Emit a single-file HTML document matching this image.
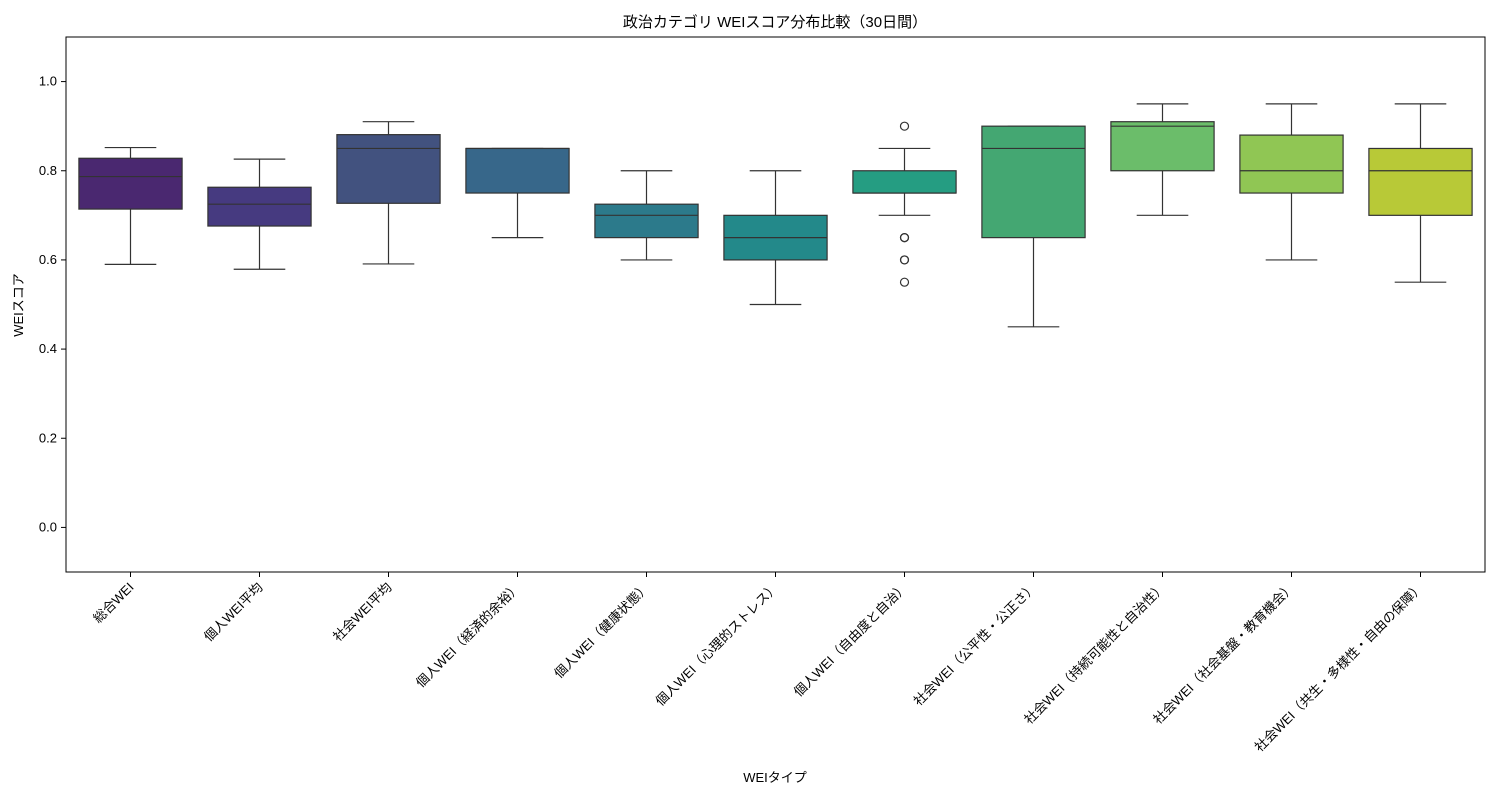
<!DOCTYPE html>
<html><head><meta charset="utf-8"><style>
body{margin:0;background:#fff;}
svg text{font-family:"Liberation Sans","Noto Sans CJK JP",sans-serif;fill:#000;}
</style></head><body>
<svg id="chart" width="1500" height="800" xmlns="http://www.w3.org/2000/svg">
<rect width="1500" height="800" fill="#fff"/>
<text x="775" y="27" font-size="15" text-anchor="middle">政治カテゴリ WEIスコア分布比較（30日間）</text>
<text x="775" y="782" font-size="13" text-anchor="middle">WEIタイプ</text>
<text x="23" y="305" font-size="13" text-anchor="middle" transform="rotate(-90 23 305)">WEIスコア</text>
<g id="plot"></g>
<rect x="66" y="37" width="1419" height="535" fill="none" stroke="#000" stroke-width="1"/>
</svg>
<script>
const categories=["総合WEI","個人WEI平均","社会WEI平均","個人WEI（経済的余裕）","個人WEI（健康状態）","個人WEI（心理的ストレス）","個人WEI（自由度と自治）","社会WEI（公平性・公正さ）","社会WEI（持続可能性と自治性）","社会WEI（社会基盤・教育機会）","社会WEI（共生・多様性・自由の保障）"];
const whiskerLow=[0.59,0.579,0.591,0.65,0.6,0.5,0.7,0.45,0.7,0.6,0.55];
const q1=[0.714,0.676,0.727,0.75,0.65,0.6,0.75,0.65,0.8,0.75,0.7];
const medians=[0.787,0.725,0.85,0.85,0.7,0.65,0.75,0.85,0.9,0.8,0.8];
const q3=[0.828,0.763,0.881,0.85,0.725,0.7,0.8,0.9,0.91,0.88,0.85];
const whiskerHigh=[0.852,0.826,0.91,0.85,0.8,0.8,0.85,0.9,0.95,0.95,0.95];
const outliers=[[],[],[],[],[],[],[0.9,0.65,0.65,0.6,0.6,0.55],[],[],[],[]];
const colors=["#4a2870","#463a80","#42527f","#37678a","#2c7a8b","#23898a","#259d82","#44a772","#6bbd6a","#90c654","#b8c937"];
const yTicks=[0.0,0.2,0.4,0.6,0.8,1.0];
const yMin=-0.1,yMax=1.1,plotTop=37,plotBottom=572,plotLeft=66,plotRight=1485;
const ys=v=>plotBottom-(v-yMin)/(yMax-yMin)*(plotBottom-plotTop);
const step=(plotRight-plotLeft)/categories.length;
const xs=i=>plotLeft+step*(i+0.5);
const NS="http://www.w3.org/2000/svg";
const g=document.getElementById('plot');
function mk(t,a){const e=document.createElementNS(NS,t);for(const k in a)e.setAttribute(k,a[k]);g.appendChild(e);return e;}
yTicks.forEach(v=>{
 const l=mk('line',{x1:plotLeft-5,x2:plotLeft,y1:ys(v),y2:ys(v),stroke:'#000'});
 
 
 const t=mk('text',{x:plotLeft-9,y:ys(v)+4,'font-size':13,'text-anchor':'end'});
 t.textContent=v.toFixed(1);
 
 
});
const bw=step*0.8;
categories.forEach((c,i)=>{
 const x=xs(i);
 const tk=mk('line',{x1:x,x2:x,y1:plotBottom,y2:plotBottom+5,stroke:'#000'});
 
 
 const t=mk('text',{x:x+4,y:plotBottom+16,'font-size':13,'text-anchor':'end',transform:`rotate(-45 ${x+4} ${plotBottom+16})`});
 t.textContent=c;
 
 
 const w1=mk('line',{x1:x,x2:x,y1:ys(whiskerLow[i]),y2:ys(q1[i]),stroke:'#333','stroke-width':1.2});
 
 
 const w2=mk('line',{x1:x,x2:x,y1:ys(q3[i]),y2:ys(whiskerHigh[i]),stroke:'#333','stroke-width':1.2});
 
 
 [whiskerLow[i],whiskerHigh[i]].forEach(v=>{
  const cap=mk('line',{x1:x-bw/4,x2:x+bw/4,y1:ys(v),y2:ys(v),stroke:'#333','stroke-width':1.2});
  
  
 });
 const b=mk('rect',{x:x-bw/2,y:ys(q3[i]),width:bw,height:Math.max(0.5,ys(q1[i])-ys(q3[i])),fill:colors[i],stroke:'#333','stroke-width':1.2});
 
 
 const m=mk('line',{x1:x-bw/2,x2:x+bw/2,y1:ys(medians[i]),y2:ys(medians[i]),stroke:'#333','stroke-width':1.2});
 
 
 outliers[i].forEach(v=>{
  const o=mk('circle',{cx:x,cy:ys(v),r:4,fill:'none',stroke:'#333','stroke-width':1.2});
  
  
 });
});
</script>
</body></html>
